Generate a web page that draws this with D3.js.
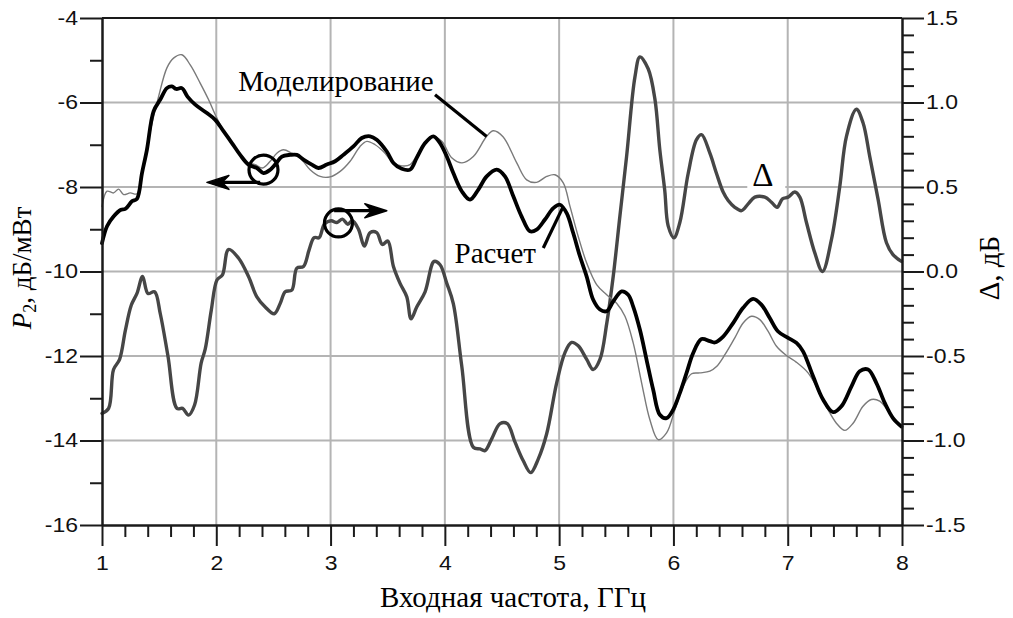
<!DOCTYPE html>
<html>
<head>
<meta charset="utf-8">
<title>P2 / Delta</title>
<script src="https://cdn.jsdelivr.net/npm/d3@7"></script>
<style>
    body { margin: 0; background: #fff; }
    svg { display: block; }
    .axis text { font-family: "Liberation Sans", Arial, sans-serif;
        font-size: 20px; fill: #111; }
    .axis path, .axis line { stroke: #1a1a1a; stroke-width: 2px; }
    .grid line { stroke: #b4b4b4; stroke-width: 2px; }
    .serif { font-family: "Liberation Serif", "Times New Roman", serif;
        fill: #000; }
</style>
</head>
<body>
<svg id="chart" width="1013" height="618"></svg>
<script>
/*jslint browser: true, es6: true, maxlen: 80 */
/*global d3 */

// Delta (right axis, dB)
var deltaFreq = [
    1.000, 1.058, 1.101, 1.154, 1.204, 1.256, 1.306, 1.355, 1.402, 1.460,
    1.510, 1.577, 1.656, 1.705, 1.757, 1.810, 1.868, 1.903, 1.956, 2.006,
    2.054, 2.107, 2.194, 2.282, 2.355, 2.428, 2.507, 2.559, 2.603, 2.661,
    2.705, 2.763, 2.813, 2.856, 2.900, 2.946, 3.005, 3.055, 3.104, 3.151,
    3.191, 3.244, 3.296, 3.346, 3.404, 3.453, 3.501, 3.550, 3.608, 3.667,
    3.704, 3.754, 3.827, 3.906, 3.958, 4.017, 4.074, 4.148, 4.249, 4.308,
    4.351, 4.410, 4.483, 4.546, 4.614, 4.686, 4.751, 4.817, 4.891, 4.978,
    5.051, 5.109, 5.167, 5.241, 5.298, 5.357, 5.416, 5.473, 5.532, 5.590,
    5.663, 5.707, 5.779, 5.838, 5.881, 5.924, 5.954, 6.004, 6.056, 6.129,
    6.202, 6.246, 6.319, 6.377, 6.435, 6.479, 6.537, 6.596, 6.654, 6.712,
    6.800, 6.858, 6.907, 6.954, 7.003, 7.062, 7.106, 7.164, 7.237, 7.304,
    7.383, 7.455, 7.514, 7.601, 7.659, 7.718, 7.790, 7.864, 7.921, 7.995
];
var deltaDb = [
    -0.84, -0.81, -0.58, -0.52, -0.35, -0.20, -0.13, -0.03, -0.13, -0.12,
    -0.25, -0.50, -0.81, -0.81, -0.85, -0.79, -0.54, -0.46, -0.23, -0.05,
    -0.02, 0.13, 0.08, -0.03, -0.15, -0.21, -0.25, -0.19, -0.12, -0.11,
    0.02, 0.03, 0.13, 0.20, 0.20, 0.28, 0.30, 0.29, 0.31, 0.28,
    0.30, 0.25, 0.15, 0.23, 0.23, 0.16, 0.18, 0.03, -0.07, -0.15,
    -0.28, -0.21, -0.12, 0.06, 0.04, -0.07, -0.19, -0.56, -1.04, -1.05,
    -1.06, -0.99, -0.90, -0.90, -1.01, -1.12, -1.19, -1.11, -0.96, -0.66,
    -0.48, -0.42, -0.44, -0.52, -0.58, -0.52, -0.31, -0.03, 0.33, 0.68,
    1.15, 1.27, 1.20, 1.02, 0.72, 0.48, 0.27, 0.20, 0.29, 0.58,
    0.78, 0.81, 0.70, 0.58, 0.47, 0.42, 0.38, 0.36, 0.40, 0.44,
    0.44, 0.41, 0.38, 0.43, 0.44, 0.47, 0.44, 0.29, 0.11, 0.00,
    0.19, 0.50, 0.80, 0.96, 0.88, 0.68, 0.43, 0.17, 0.10, 0.06
];

// "Расчет" (left axis, dB/mW)
var calcFreq = [
    1.000, 1.044, 1.101, 1.166, 1.204, 1.262, 1.306, 1.350, 1.393, 1.451,
    1.510, 1.568, 1.612, 1.650, 1.699, 1.748, 1.816, 1.918, 1.991, 2.063,
    2.137, 2.209, 2.282, 2.355, 2.413, 2.472, 2.515, 2.574, 2.646, 2.705,
    2.763, 2.836, 2.894, 2.967, 3.040, 3.112, 3.200, 3.273, 3.346, 3.404,
    3.492, 3.550, 3.623, 3.696, 3.754, 3.827, 3.899, 3.958, 4.017, 4.074,
    4.148, 4.220, 4.293, 4.366, 4.454, 4.526, 4.599, 4.672, 4.745, 4.803,
    4.876, 4.949, 5.007, 5.066, 5.123, 5.182, 5.241, 5.298, 5.357, 5.416,
    5.473, 5.547, 5.604, 5.648, 5.707, 5.765, 5.823, 5.881, 5.940, 5.998,
    6.056, 6.115, 6.173, 6.246, 6.319, 6.362, 6.435, 6.522, 6.610, 6.697,
    6.771, 6.843, 6.916, 7.003, 7.077, 7.134, 7.222, 7.309, 7.397, 7.470,
    7.558, 7.630, 7.703, 7.776, 7.849, 7.921, 7.995
];
var calcP2 = [
    -9.33, -8.93, -8.70, -8.54, -8.52, -8.34, -8.28, -7.67, -7.12, -6.21,
    -5.93, -5.66, -5.62, -5.68, -5.66, -5.86, -6.05, -6.25, -6.41, -6.68,
    -6.96, -7.24, -7.47, -7.55, -7.67, -7.59, -7.47, -7.28, -7.24, -7.24,
    -7.35, -7.47, -7.55, -7.47, -7.39, -7.24, -7.04, -6.84, -6.80, -6.88,
    -7.16, -7.43, -7.57, -7.59, -7.31, -6.96, -6.80, -6.96, -7.28, -7.67,
    -8.10, -8.30, -8.06, -7.75, -7.59, -7.75, -8.22, -8.70, -9.05, -9.01,
    -8.77, -8.50, -8.42, -8.62, -9.09, -9.64, -10.12, -10.67, -10.90, -10.94,
    -10.71, -10.47, -10.55, -10.83, -11.38, -12.09, -12.80, -13.39, -13.47,
    -13.27,
    -12.88, -12.40, -11.93, -11.60, -11.65, -11.68, -11.54, -11.22, -10.86,
    -10.65,
    -10.79, -11.10, -11.42, -11.57, -11.69, -11.89, -12.48, -13.03, -13.33,
    -13.19,
    -12.72, -12.36, -12.32, -12.64, -13.11, -13.47, -13.67
];

// "Моделирование" (left axis, dB/mW)
var simFreq = [
    1.000, 1.044, 1.101, 1.145, 1.189, 1.247, 1.306, 1.350, 1.422, 1.495,
    1.568, 1.626, 1.699, 1.772, 1.859, 1.932, 1.991, 2.063, 2.137, 2.209,
    2.268, 2.340, 2.404, 2.472, 2.530, 2.588, 2.661, 2.734, 2.821, 2.909,
    2.996, 3.084, 3.171, 3.258, 3.317, 3.390, 3.462, 3.550, 3.623, 3.696,
    3.783, 3.885, 3.973, 4.060, 4.150, 4.249, 4.366, 4.424, 4.509, 4.629,
    4.716, 4.803, 4.891, 4.963, 5.036, 5.095, 5.167, 5.241, 5.328, 5.416,
    5.503, 5.576, 5.648, 5.722, 5.794, 5.867, 5.940, 6.013, 6.085, 6.159,
    6.231, 6.319, 6.377, 6.450, 6.537, 6.610, 6.683, 6.756, 6.829, 6.902,
    6.989, 7.077, 7.178, 7.266, 7.353, 7.426, 7.499, 7.572, 7.659, 7.732,
    7.805, 7.892, 7.979
];
var simP2 = [
    -8.46, -8.10, -8.14, -8.05, -8.18, -8.14, -8.16, -7.63, -6.68, -5.86,
    -5.18, -4.95, -4.87, -5.11, -5.54, -5.93, -6.29, -6.68, -6.96, -7.24,
    -7.43, -7.47, -7.55, -7.39, -7.20, -7.12, -7.20, -7.31, -7.59, -7.75,
    -7.76, -7.63, -7.39, -7.04, -6.92, -7.00, -7.16, -7.43, -7.50, -7.47,
    -7.12, -6.80, -6.92, -7.31, -7.43, -7.28, -6.80, -6.67, -6.81, -7.43,
    -7.83, -7.89, -7.75, -7.71, -7.90, -8.46, -9.17, -9.80, -10.31, -10.55,
    -10.75, -11.06, -11.69, -12.64, -13.51, -13.98, -13.82, -13.27, -12.72,
    -12.42,
    -12.40, -12.36, -12.25, -11.97, -11.57, -11.22, -11.06, -11.14, -11.42,
    -11.77,
    -11.99, -12.15, -12.40, -12.80, -13.27, -13.59, -13.76, -13.59, -13.19,
    -13.03,
    -13.07, -13.35, -13.63
];

// tick values and labels
var freqTicks = [1, 2, 3, 4, 5, 6, 7, 8];
var freqTickLabels = ["1", "2", "3", "4", "5", "6", "7", "8"];
var p2Ticks = [-16, -14, -12, -10, -8, -6, -4];
var p2TickLabels = ["-16", "-14", "-12", "-10", "-8", "-6", "-4"];
var deltaTicks = [-1.5, -1.0, -0.5, 0, 0.5, 1.0, 1.5];
var deltaTickLabels = ["-1.5", "-1.0", "-0.5", "0.0", "0.5", "1.0", "1.5"];

(function () {
    "use strict";

    var svg = d3.select("#chart");
    var plot = {left: 102, right: 902, top: 18, bottom: 525};
    var labelStretch = 1.15; // tick labels are drawn slightly wide

    var x = d3.scaleLinear().domain([1, 8]).range([plot.left, plot.right]);
    var yLeft = d3.scaleLinear()
        .domain([-16, -4])
        .range([plot.bottom, plot.top]);
    var yRight = d3.scaleLinear()
        .domain([-1.5, 1.5])
        .range([plot.bottom, plot.top]);

    // minor ticks
    var freqMinor = d3.range(1, 8.001, 0.2).filter(function (d) {
        return Math.abs(d - Math.round(d)) > 0.01;
    });
    var p2Minor = d3.range(-15, -4, 2);
    var deltaMinor = d3.range(-1.4, 1.45, 0.1).filter(function (d) {
        return Math.abs(d * 2 - Math.round(d * 2)) > 0.01;
    });

    // grid
    var grid = svg.append("g").attr("class", "grid");
    grid.selectAll("line.v")
        .data(freqTicks.slice(1, -1))
        .enter().append("line")
        .attr("class", "v")
        .attr("x1", x).attr("x2", x)
        .attr("y1", plot.top).attr("y2", plot.bottom);
    grid.selectAll("line.h")
        .data(p2Ticks.slice(1, -1))
        .enter().append("line")
        .attr("class", "h")
        .attr("x1", plot.left).attr("x2", plot.right)
        .attr("y1", yLeft).attr("y2", yLeft);

    // gap in the grid behind the delta label
    var deltaLabel = {f: 6.69, p2: -7.98};
    svg.append("rect")
        .attr("x", x(deltaLabel.f) - 5)
        .attr("y", yLeft(-8) - 3)
        .attr("width", 38)
        .attr("height", 6)
        .attr("fill", "#fff");

    // series
    var drawLine = function (xs, ys, yScale, color, widthPx) {
        var gen = d3.line()
            .curve(d3.curveCatmullRom.alpha(0.5))
            .x(function (d) { return x(d[0]); })
            .y(function (d) { return yScale(d[1]); });
        svg.append("path")
            .datum(d3.zip(xs, ys))
            .attr("d", gen)
            .attr("fill", "none")
            .attr("stroke", color)
            .attr("stroke-width", widthPx)
            .attr("stroke-linejoin", "round")
            .attr("stroke-linecap", "round");
    };
    drawLine(deltaFreq, deltaDb, yRight, "#464646", 3.4);
    drawLine(simFreq, simP2, yLeft, "#7a7a7a", 1.4);
    drawLine(calcFreq, calcP2, yLeft, "#000", 3.8);

    // annotations: circles and arrows
    var note = svg.append("g")
        .attr("fill", "none")
        .attr("stroke", "#000")
        .attr("stroke-width", 3.2);
    var circles = [
        {f: 2.413, p2: -7.59, r: 14.5},
        {f: 3.069, p2: -8.85, r: 14}
    ];
    note.selectAll("circle")
        .data(circles)
        .enter().append("circle")
        .attr("cx", function (d) { return x(d.f); })
        .attr("cy", function (d) { return yLeft(d.p2); })
        .attr("r", function (d) { return d.r; });

    var arrows = [
        {from: 2.384, to: 1.918, p2: -7.891},
        {from: 3.031, to: 3.492, p2: -8.561}
    ];
    arrows.forEach(function (a) {
        var x0 = x(a.from);
        var x1 = x(a.to);
        var yy = yLeft(a.p2);
        var dir = x1 > x0 ? 1 : -1;
        note.append("line")
            .attr("x1", x0).attr("x2", x1 - dir * 8)
            .attr("y1", yy).attr("y2", yy);
        svg.append("path")
            .attr("d", "M" + x1 + "," + yy +
                    "L" + (x1 - dir * 22) + "," + (yy - 7) +
                    "L" + (x1 - dir * 15) + "," + yy +
                    "L" + (x1 - dir * 22) + "," + (yy + 7) + "Z")
            .attr("fill", "#000")
            .attr("stroke", "#000")
            .attr("stroke-width", 1.5)
            .attr("stroke-linejoin", "round");
    });

    // leader lines for the series labels
    var leaders = [
        {f1: 3.914, p1: -5.815, f2: 4.366, p2: -6.802},
        {f1: 4.861, p1: -9.444, f2: 5.036, p2: -8.459}
    ];
    note.selectAll("line.leader")
        .data(leaders)
        .enter().append("line")
        .attr("class", "leader")
        .attr("x1", function (d) { return x(d.f1); })
        .attr("y1", function (d) { return yLeft(d.p1); })
        .attr("x2", function (d) { return x(d.f2); })
        .attr("y2", function (d) { return yLeft(d.p2); });

    var labels = [
        {text: "Моделирование", f: 2.192, p2: -5.737, size: 29},
        {text: "Расчет", f: 4.085, p2: -9.792, size: 29},
        {text: "Δ", f: deltaLabel.f, p2: deltaLabel.p2, size: 33}
    ];
    svg.selectAll("text.label")
        .data(labels)
        .enter().append("text")
        .attr("class", "label serif")
        .attr("x", function (d) { return x(d.f); })
        .attr("y", function (d) { return yLeft(d.p2); })
        .attr("font-size", function (d) { return d.size + "px"; })
        .text(function (d) { return d.text; });

    // axes
    var pick = function (labelsArr) {
        return function (d, i) {
            return labelsArr[i];
        };
    };
    var stretch = function (sel) {
        sel.selectAll("text")
            .attr("x", function () {
                return (+this.getAttribute("x") || 0) / labelStretch;
            })
            .attr("transform", "scale(" + labelStretch + ",1)");
    };

    var leftGroup = svg.append("g")
        .attr("class", "axis")
        .attr("transform", "translate(" + plot.left + ",0)");
    leftGroup.call(d3.axisLeft(yLeft).tickValues(p2Minor)
        .tickSize(12).tickSizeOuter(0).tickFormat(""));
    leftGroup.append("g").call(d3.axisLeft(yLeft).tickValues(p2Ticks)
        .tickSize(22).tickSizeOuter(0).tickPadding(2)
        .tickFormat(pick(p2TickLabels)));
    stretch(leftGroup);

    var rightGroup = svg.append("g")
        .attr("class", "axis")
        .attr("transform", "translate(" + plot.right + ",0)");
    rightGroup.call(d3.axisRight(yRight).tickValues(deltaMinor)
        .tickSize(12).tickSizeOuter(0).tickFormat(""));
    rightGroup.append("g").call(d3.axisRight(yRight).tickValues(deltaTicks)
        .tickSize(22).tickSizeOuter(0).tickPadding(2)
        .tickFormat(pick(deltaTickLabels)));
    stretch(rightGroup);

    var bottomGroup = svg.append("g")
        .attr("class", "axis")
        .attr("transform", "translate(0," + plot.bottom + ")");
    bottomGroup.call(d3.axisBottom(x).tickValues(freqMinor)
        .tickSize(12).tickSizeOuter(0).tickFormat(""));
    bottomGroup.append("g").call(d3.axisBottom(x).tickValues(freqTicks)
        .tickSize(21).tickSizeOuter(0)
        .tickFormat(pick(freqTickLabels)));
    bottomGroup.selectAll("text").attr("y", 45).attr("dy", null);
    stretch(bottomGroup);

    // top frame
    svg.append("line")
        .attr("x1", plot.left).attr("x2", plot.right)
        .attr("y1", plot.top).attr("y2", plot.top)
        .attr("stroke", "#1a1a1a")
        .attr("stroke-width", 2);

    // axis titles
    svg.append("text")
        .attr("class", "serif")
        .attr("font-size", "29px")
        .attr("text-anchor", "middle")
        .attr("x", 513)
        .attr("y", 607)
        .text("Входная частота, ГГц");

    var leftTitle = svg.append("text")
        .attr("class", "serif")
        .attr("font-size", "27px")
        .attr("text-anchor", "middle")
        .attr("transform", "translate(31,268) rotate(-90)");
    leftTitle.append("tspan").attr("font-style", "italic").text("P");
    leftTitle.append("tspan")
        .attr("font-size", "18px")
        .attr("dy", 5)
        .text("2");
    leftTitle.append("tspan").attr("dy", -5).text(", дБ/мВт");

    svg.append("text")
        .attr("class", "serif")
        .attr("font-size", "29px")
        .attr("text-anchor", "middle")
        .attr("transform", "translate(999,268) rotate(-90)")
        .text("Δ, дБ");
}());
</script>
</body>
</html>
